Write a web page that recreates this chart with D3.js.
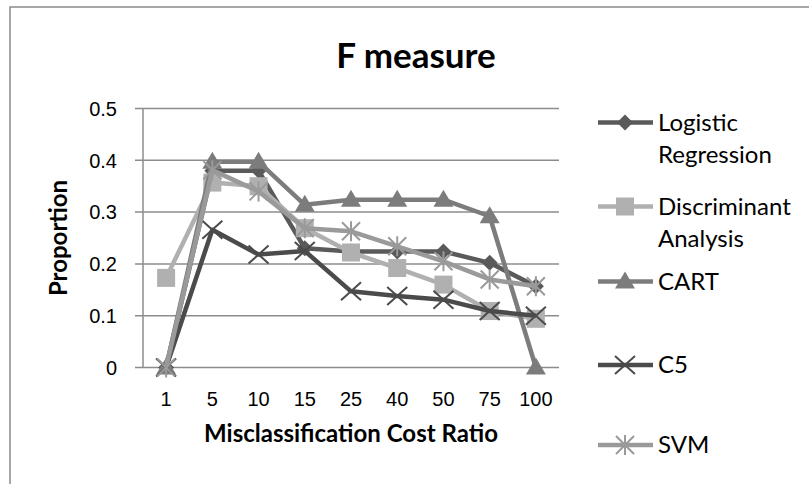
<!DOCTYPE html>
<html>
<head>
<meta charset="utf-8">
<script src="https://cdn.jsdelivr.net/npm/d3@7"></script>
<style>
  body { margin: 0; background: #fff; }
  svg { display: block; }
</style>
</head>
<body>
<div id="chart"></div>
<script>
// misclassification cost ratios on the x axis
const costRatios = ["1", "5", "10", "15", "25", "40", "50", "75", "100"];
const yTicks = [0, 0.1, 0.2, 0.3, 0.4, 0.5];

const logistic     = [0, 0.38, 0.38, 0.23, 0.224, 0.224, 0.224, 0.202, 0.157];
const discriminant = [0.173, 0.357, 0.35, 0.269, 0.222, 0.192, 0.16, 0.109, 0.094];
const cart         = [0, 0.397, 0.397, 0.314, 0.324, 0.324, 0.324, 0.292, 0];
const c5           = [0, 0.266, 0.218, 0.225, 0.147, 0.138, 0.131, 0.109, 0.1];
const svmVals      = [0, 0.381, 0.34, 0.269, 0.263, 0.234, 0.205, 0.17, 0.157];

const series = [
  { name: ["Logistic", "Regression"], values: logistic, color: "#5a5a5a", marker: "diamond" },
  { name: ["Discriminant", "Analysis"], values: discriminant, color: "#b0b0b0", marker: "square" },
  { name: ["CART"], values: cart, color: "#7c7c7c", marker: "triangle" },
  { name: ["C5"], values: c5, color: "#4b4b4b", marker: "x" },
  { name: ["SVM"], values: svmVals, color: "#9a9a9a", marker: "star" }
];

const width = 809, height = 484;
const plot = { left: 143, right: 559, top: 108.5, bottom: 367.5 };

const svg = d3.select("#chart").append("svg")
  .attr("width", width)
  .attr("height", height);

// outer chart frame (runs off the picture on the right and bottom)
svg.append("rect")
  .attr("x", 10).attr("y", 7)
  .attr("width", 900).attr("height", 600)
  .attr("fill", "none")
  .attr("stroke", "#8a8a8a")
  .attr("stroke-width", 1.5);

const x = d3.scaleBand().domain(costRatios).range([plot.left, plot.right]);
const y = d3.scaleLinear().domain([0, 0.5]).range([plot.bottom, plot.top]);
const cx = d => x(d) + x.bandwidth() / 2;

// gridlines
svg.append("g")
  .selectAll("line")
  .data(yTicks)
  .join("line")
  .attr("x1", plot.left - 8)
  .attr("x2", plot.right)
  .attr("y1", d => y(d))
  .attr("y2", d => y(d))
  .attr("stroke", "#8c8c8c")
  .attr("stroke-width", 1.5);

// y axis line
svg.append("line")
  .attr("x1", plot.left).attr("x2", plot.left)
  .attr("y1", plot.top).attr("y2", plot.bottom)
  .attr("stroke", "#8c8c8c")
  .attr("stroke-width", 1.5);

svg.append("g")
  .selectAll("text")
  .data(yTicks)
  .join("text")
  .attr("x", 117)
  .attr("y", d => y(d))
  .attr("dy", "0.36em")
  .attr("text-anchor", "end")
  .style("font", "20px 'Liberation Sans', Arial, sans-serif")
  .text(d => d === 0 ? "0" : d3.format(".1f")(d));

svg.append("g")
  .selectAll("text")
  .data(costRatios)
  .join("text")
  .attr("x", d => cx(d))
  .attr("y", 406)
  .attr("text-anchor", "middle")
  .style("font", "20px 'Liberation Sans', Arial, sans-serif")
  .text(d => d);

// titles
svg.append("text")
  .attr("x", 416).attr("y", 68)
  .attr("text-anchor", "middle")
  .style("font", "bold 35px Lato, 'Open Sans', sans-serif")
  .text("F measure");

svg.append("text")
  .attr("x", (plot.left + plot.right) / 2).attr("y", 442)
  .attr("text-anchor", "middle")
  .style("font", "bold 24px Lato, 'Open Sans', sans-serif")
  .text("Misclassification Cost Ratio");

svg.append("text")
  .attr("transform", "translate(67,238) rotate(-90)")
  .attr("text-anchor", "middle")
  .style("font", "bold 24px Lato, 'Open Sans', sans-serif")
  .text("Proportion");

// marker shapes
function drawMarker(g, type, color) {
  if (type === "diamond") {
    g.append("path").attr("d", "M0,-8L8,0L0,8L-8,0Z").attr("fill", color);
  } else if (type === "square") {
    g.append("rect").attr("x", -9).attr("y", -9).attr("width", 18).attr("height", 18).attr("fill", color);
  } else if (type === "triangle") {
    g.append("path").attr("d", "M0,-10L10,7L-10,7Z").attr("fill", color);
  } else if (type === "x") {
    g.append("path").attr("d", "M-10,-9L10,9M-10,9L10,-9")
      .attr("stroke", color).attr("stroke-width", 2).attr("fill", "none");
  } else if (type === "star") {
    g.append("path").attr("d", "M-9,-9L9,9M-9,9L9,-9M0,-10V10")
      .attr("stroke", color).attr("stroke-width", 2).attr("fill", "none");
  }
}

const line = d3.line()
  .x((d, i) => cx(costRatios[i]))
  .y(d => y(d));

series.forEach(s => {
  const g = svg.append("g");
  g.append("path")
    .datum(s.values)
    .attr("d", line)
    .attr("fill", "none")
    .attr("stroke", s.color)
    .attr("stroke-width", 4.5)
    .attr("stroke-linejoin", "round");
  s.values.forEach((v, i) => {
    const m = g.append("g").attr("transform", `translate(${cx(costRatios[i])},${y(v)})`);
    drawMarker(m, s.marker, s.color);
  });
});

// legend
const legendY = [122.5, 206.5, 281.5, 365, 445];
series.forEach((s, i) => {
  const g = svg.append("g").attr("transform", `translate(0,${legendY[i]})`);
  g.append("line")
    .attr("x1", 598).attr("x2", 653)
    .attr("stroke", s.color).attr("stroke-width", 4.5);
  const m = g.append("g").attr("transform", "translate(625,0)");
  drawMarker(m, s.marker, s.color);
  const t = g.append("text")
    .attr("x", 658)
    .style("font", "24px Lato, 'Open Sans', sans-serif");
  s.name.forEach((part, j) => {
    t.append("tspan").attr("x", 658).attr("y", j * 32.5).attr("dy", "0.35em").text(part);
  });
});
</script>
</body>
</html>
